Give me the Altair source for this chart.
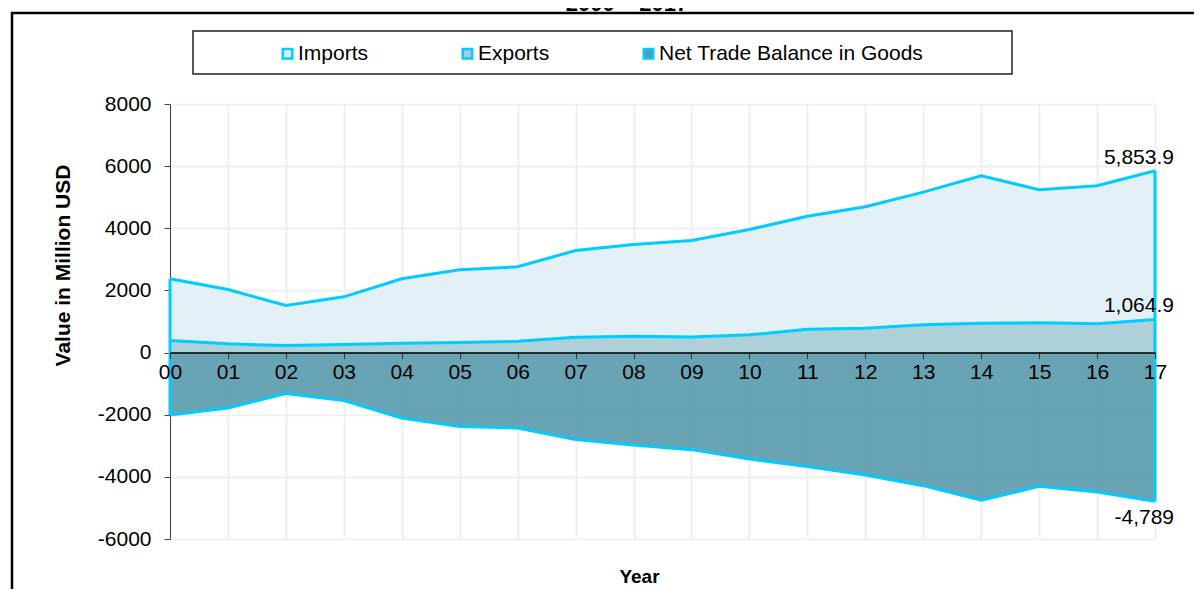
import altair as alt
import pandas as pd

# ---------------- data ----------------
years = ["00", "01", "02", "03", "04", "05", "06", "07", "08",
         "09", "10", "11", "12", "13", "14", "15", "16", "17"]
imports = [2373, 2029, 1514, 1794, 2373, 2663, 2760, 3285, 3478,
           3607, 3961, 4390, 4692, 5163, 5691, 5240, 5369, 5853.9]
exports = [386, 280, 225, 258, 300, 322, 364, 493, 525,
           505, 570, 750, 783, 892, 944, 956, 924, 1064.9]
net = [-2007, -1781, -1320, -1546, -2103, -2383, -2426, -2802, -2973,
       -3124, -3424, -3671, -3939, -4283, -4750, -4305, -4486, -4789]
series_names = ["Imports", "Exports", "Net Trade Balance in Goods"]
y_ticks = [-6000, -4000, -2000, 0, 2000, 4000, 6000, 8000]
title_text = "2000 \u2013 2017"

# ---------------- styling ----------------
FONT = "Liberation Sans"
CYAN = "#00CCFF"
FILLS = ["#E0EEF4", "#A6CCD6", "#589AAB"]
W, H = 985, 435
Y_MIN, Y_MAX = -6000, 8000
ZERO_FROM_BOTTOM = H * (0 - Y_MIN) / (Y_MAX - Y_MIN)

rows = []
for name, vals in zip(series_names, [imports, exports, net]):
    for yr, v in zip(years, vals):
        rows.append({"Year": yr, "Series": name, "Value": v})
long = pd.DataFrame(rows)
wide = pd.DataFrame({"Year": years, "Imports": imports, "Exports": exports, "Net": net})

last = len(years) - 1
pos_labels = pd.DataFrame({
    "Year": [years[last], years[last]],
    "Value": [imports[last], exports[last]],
    "Label": [f"{imports[last]:,.1f}", f"{exports[last]:,.1f}"],
})
neg_labels = pd.DataFrame({
    "Year": [years[last]],
    "Value": [net[last]],
    "Label": [f"{net[last]:,.0f}"],
})
edges = wide[wide["Year"].isin([years[0], years[last]])]
one = pd.DataFrame({"k": [0]})

xscale = alt.Scale(type="point", padding=0, domain=years)
yscale = alt.Scale(domain=[Y_MIN, Y_MAX], nice=False, zero=False)
cscale = alt.Scale(domain=series_names, range=FILLS)

legend = alt.Legend(
    title=None, orient="none", legendX=107, legendY=-61, direction="horizontal",
    symbolType="square", symbolSize=90, symbolStrokeColor=CYAN, symbolStrokeWidth=2.5,
    symbolOpacity=1, labelFont=FONT, labelFontSize=21, labelColor="#000",
    labelOffset=0, columnPadding=88, labelLimit=400,
)

grid_x_axis = alt.Axis(orient="bottom", grid=True, gridColor="#EFEFEF", gridWidth=2,
                       labels=False, ticks=False, domain=False, title=None, zindex=0)
y_axis = alt.Axis(
    orient="left", values=y_ticks, labelExpr="'' + datum.value", grid=True,
    gridColor="#EFEFEF", gridWidth=2, domainColor="#444", tickColor="#444",
    tickSize=6, labelPadding=13, labelFont=FONT, labelFontSize=21, labelColor="#000",
    title="Value in Million USD", titleFont=FONT, titleFontSize=21,
    titleFontWeight="bold", titleColor="#000", titleX=-107, titleY=161,
    titleAlign="center", titleBaseline="middle", zindex=0,
)
main_x_axis = alt.Axis(
    orient="bottom", offset=-ZERO_FROM_BOTTOM, grid=False, labelAngle=0,
    labelFlush=False, labelFont=FONT, labelFontSize=21, labelColor="#000",
    labelPadding=3, domainColor="#000", domainWidth=1.5, tickColor="#333",
    tickSize=6, title="Year", titleFont=FONT, titleFontSize=19,
    titleFontWeight="bold", titleColor="#000", titleX=469, titleY=224,
    titleBaseline="middle", zindex=1,
)


def area(name, xaxis=None, yaxis=None):
    return alt.Chart(long).transform_filter(alt.datum.Series == name).mark_area(
        fillOpacity=0.9
    ).encode(
        x=alt.X("Year:O", scale=xscale, axis=xaxis),
        y=alt.Y("Value:Q", scale=yscale, stack=None, axis=yaxis),
        color=alt.Color("Series:N", scale=cscale, legend=legend),
    )


a_imp = area("Imports", grid_x_axis, y_axis)
a_exp = area("Exports")
a_net = area("Net Trade Balance in Goods")

lines = alt.Chart(long).mark_line(color=CYAN, strokeWidth=3).encode(
    x=alt.X("Year:O", scale=xscale, axis=None),
    y=alt.Y("Value:Q", scale=yscale, axis=None),
    detail="Series:N",
)

edge_rules = alt.Chart(edges).mark_rule(color=CYAN, strokeWidth=3).encode(
    x=alt.X("Year:O", scale=xscale, axis=main_x_axis),
    y=alt.Y("Imports:Q", scale=yscale, axis=None),
    y2="Net:Q",
)

txt_pos = alt.Chart(pos_labels).mark_text(
    align="right", baseline="bottom", dx=19, dy=-3, font=FONT, fontSize=21, color="#000"
).encode(
    x=alt.X("Year:O", scale=xscale, axis=None),
    y=alt.Y("Value:Q", scale=yscale, axis=None),
    text="Label:N",
)
txt_neg = alt.Chart(neg_labels).mark_text(
    align="right", baseline="top", dx=19, dy=6, font=FONT, fontSize=21, color="#000"
).encode(
    x=alt.X("Year:O", scale=xscale, axis=None),
    y=alt.Y("Value:Q", scale=yscale, axis=None),
    text="Label:N",
)

legend_box = alt.Chart(one).mark_rect(
    fill="white", fillOpacity=0, stroke="#222", strokeWidth=1.5
).encode(x=alt.value(23), x2=alt.value(842), y=alt.value(-73), y2=alt.value(-30))

frame = alt.Chart(one).mark_rect(
    fillOpacity=0, stroke="#000", strokeWidth=2.5
).encode(x=alt.value(-158), x2=alt.value(W + 200), y=alt.value(-91), y2=alt.value(H + 200))

title = alt.Chart(one).mark_text(
    text=title_text, font=FONT, fontSize=22, fontWeight="bold", color="#000",
    align="center", baseline="alphabetic"
).encode(x=alt.value(457), y=alt.value(-93))

chart = alt.layer(
    a_imp, a_exp, a_net, lines, edge_rules, txt_pos, txt_neg, legend_box, frame, title
).resolve_axis(x="independent", y="independent").properties(
    width=W, height=H,
    autosize=alt.AutoSizeParams(type="none"),
    padding={"left": 162, "top": 96, "right": 39, "bottom": 50},
    background="white",
).configure_view(stroke=None)

chart.save("out.html", embed_options={"renderer": "svg", "actions": False})
